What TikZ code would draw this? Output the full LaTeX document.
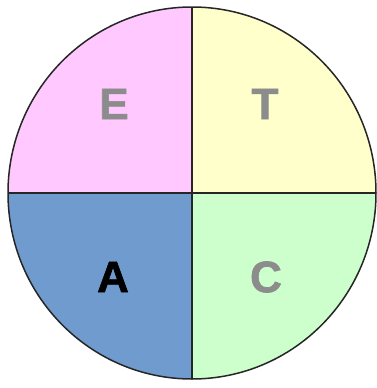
\documentclass[tikz,border=0pt]{standalone}
\usepackage{fontspec}
\setmainfont{Liberation Sans}
\newfontfamily\heavyfont[FakeBold=1.5]{Liberation Sans Bold}
\definecolor{qpink}{HTML}{FFC8FF}
\definecolor{qyellow}{HTML}{FFFFCC}
\definecolor{qblue}{HTML}{6F9BCF}
\definecolor{qgreen}{HTML}{CCFFCC}
\definecolor{lettergray}{HTML}{8C8C8C}
\begin{document}
\begin{tikzpicture}[x=1pt,y=-1pt,
  letter/.style={font=\heavyfont\fontsize{44}{44}\selectfont, inner sep=0pt}]
\useasboundingbox (0,0) rectangle (376,388);
\fill[white] (0,0) rectangle (376,388);
\coordinate (o) at (192,193);
\begin{scope}
  \clip (o) ellipse [x radius=184, y radius=186];
  \fill[qpink] (o) rectangle (0,0);
  \fill[qyellow] (o) rectangle (376,0);
  \fill[qblue] (o) rectangle (0,388);
  \fill[qgreen] (o) rectangle (376,388);
\end{scope}
\coordinate (top) at (192,7);
\coordinate (bot) at (192,379);
\coordinate (lft) at (8,193);
\coordinate (rgt) at (376,193);
\draw[line width=1.5pt, black!85] (top) -- (bot);
\draw[line width=1.5pt, black!85] (lft) -- (rgt);
\draw[line width=1.5pt, black!85] (o) ellipse [x radius=184, y radius=186];
\node[letter, text=lettergray] (e) at (114,104) {E};
\node[letter, text=lettergray] (t) at (265,104) {T};
\node[letter, text=black] (a) at (113,277) {A};
\node[letter, text=lettergray] (c) at (266,277) {C};
\end{tikzpicture}
\end{document}
